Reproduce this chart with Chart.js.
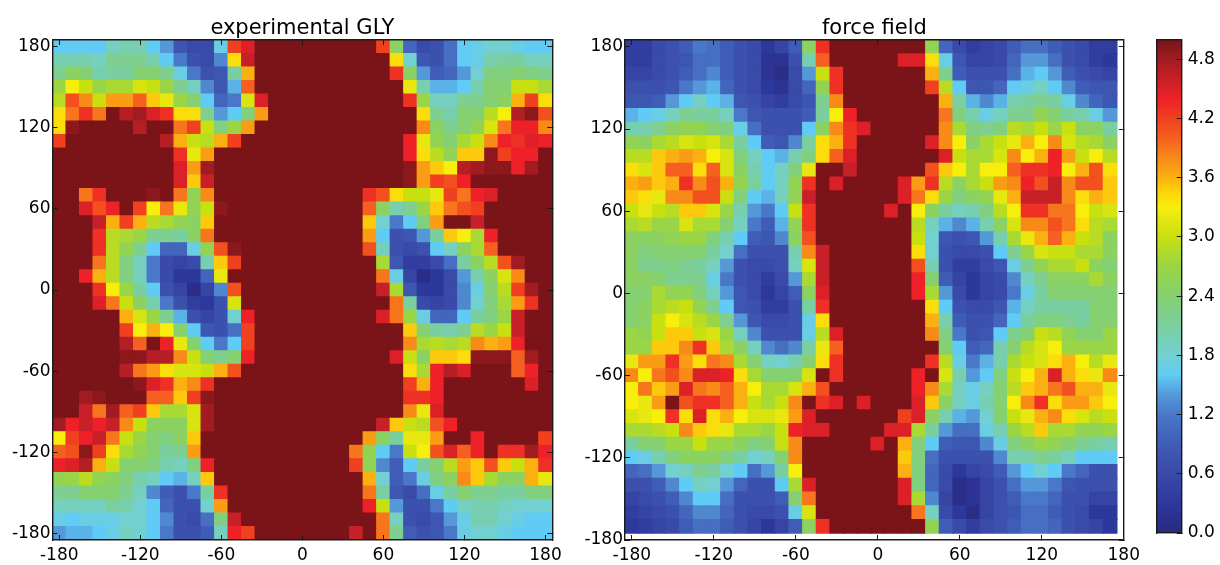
<!DOCTYPE html>
<html>
<head>
<meta charset="utf-8">
<style>
  html, body { margin: 0; padding: 0; background: #fff; }
  body { width: 1220px; height: 565px; position: relative; overflow: hidden; }
  .box { position: absolute; top: 0; height: 565px; }
</style>
<script src="https://cdn.jsdelivr.net/npm/chart.js@4/dist/chart.umd.min.js"></script>
</head>
<body>
<div class="box" style="left:0;width:572px"><canvas id="glyChart"></canvas></div>
<div class="box" style="left:572px;width:578px"><canvas id="fieldChart"></canvas></div>
<div class="box" style="left:1150px;width:70px"><canvas id="barChart"></canvas></div>
<script>
// Axis ticks
const angleTicks = [-180, -120, -60, 0, 60, 120, 180];
const barTicks = [0, 0.6, 1.2, 1.8, 2.4, 3.0, 3.6, 4.2, 4.8];

// Bin centres
const glyPhi = [-180,-170,-160,-150,-140,-130,-120,-110,-100,-90,-80,-70,-60,-50,-40,-30,-20,-10,0,10,20,30,40,50,60,70,80,90,100,110,120,130,140,150,160,170,180];
const glyPsi = [180,170,160,150,140,130,120,110,100,90,80,70,60,50,40,30,20,10,0,-10,-20,-30,-40,-50,-60,-70,-80,-90,-100,-110,-120,-130,-140,-150,-160,-170,-180];
const fieldPhi = [-180,-170,-160,-150,-140,-130,-120,-110,-100,-90,-80,-70,-60,-50,-40,-30,-20,-10,0,10,20,30,40,50,60,70,80,90,100,110,120,130,140,150,160,170];
const fieldPsi = [180,170,160,150,140,130,120,110,100,90,80,70,60,50,40,30,20,10,0,-10,-20,-30,-40,-50,-60,-70,-80,-90,-100,-110,-120,-130,-140,-150,-160,-170];

// experimental GLY, one row per psi bin, top to bottom
const glyRows = [
[1.6,1.6,1.6,1.6,1.9,2.0,2.0,1.6,1.4,0.8,0.6,0.6,1.7,4.2,4.5,5,5,5,5,5,5,5,5,5,4.2,2.5,1.0,0.6,0.7,1.1,1.6,1.7,1.8,1.8,1.7,1.6,1.6],
[2.0,2.0,2.0,1.9,2.2,2.2,2.2,2.0,1.6,1.2,0.7,0.6,1.3,3.4,4.6,5,5,5,5,5,5,5,5,5,5,3.4,1.8,0.8,0.7,1.1,1.6,1.7,2.0,2.1,2.1,1.9,1.9],
[2.2,2.5,2.4,2.0,2.1,2.1,2.4,2.4,2.2,1.7,1.2,0.7,0.8,2.1,3.6,5,5,5,5,5,5,5,5,5,5,4.3,2.5,1.4,0.9,1.0,1.4,1.8,2.3,2.3,2.4,2.3,2.2],
[2.7,3.3,3.0,2.7,2.8,2.8,3.1,3.0,2.7,2.2,1.9,1.3,0.8,1.5,4.0,5,5,5,5,5,5,5,5,5,5,5,3.2,2.0,1.5,1.5,1.6,2.0,2.4,2.4,3.0,3.0,2.8],
[2.9,4.1,3.8,3.0,3.7,3.7,4.0,3.5,3.2,2.7,2.4,1.6,1.0,1.2,3.1,4.5,5,5,5,5,5,5,5,5,5,5,4.3,2.7,1.9,1.9,2.2,2.2,2.4,2.5,3.6,4.2,3.4],
[3.4,3.9,4.3,3.9,5,4.7,4.8,4.5,4.3,3.4,3.4,2.2,1.4,1.6,2.3,3.7,5,5,5,5,5,5,5,5,5,5,5,3.4,2.2,2.0,2.4,2.4,2.9,3.3,4.7,4.9,4.1],
[3.4,4.9,5,5,5,5,4.7,5,5,3.9,4.2,3.0,2.3,2.7,3.7,5,5,5,5,5,5,5,5,5,5,5,5,3.8,2.5,2.2,2.4,2.6,3.1,3.9,4.4,4.4,3.8],
[4.2,5,5,5,5,5,5,5,4.7,3.6,3.0,2.9,3.6,4.2,5,5,5,5,5,5,5,5,5,5,5,5,4.4,3.2,2.6,2.4,2.8,3.0,3.8,4.4,4.3,4.5,4.4],
[5,5,5,5,5,5,5,5,5,4.3,3.2,3.7,5,5,5,5,5,5,5,5,5,5,5,5,5,5,4.4,3.4,2.9,2.6,3.5,3.5,4.9,4.2,4.4,4.4,5],
[5,5,5,5,5,5,5,5,5,4.5,3.7,4.8,5,5,5,5,5,5,5,5,5,5,5,5,5,5,4.9,3.7,3.5,3.3,4.7,4.8,4.9,4.9,4.4,4.8,5],
[5,5,5,5,5,5,5,5,5,4.5,3.5,4.6,5,5,5,5,5,5,5,5,5,5,5,5,5,5,4.9,3.7,4.2,4.1,4.4,5,5,5,5,5,5],
[5,5,3.9,4.3,5,5,5,4.9,5,3.9,2.6,3.8,5,5,5,5,5,5,5,5,5,5,5,4.3,4.1,3.4,3.0,3.0,3.2,4.2,3.9,4.4,4.5,5,5,5,5],
[5,5,4.5,4.1,4.4,5,4.2,3.3,3.9,3.2,2.6,3.0,4.9,5,5,5,5,5,5,5,5,5,5,4.0,2.5,2.0,2.2,2.7,3.5,3.9,4.1,4.2,5,5,5,5,5],
[5,5,5,4.6,3.6,4.2,3.6,2.9,2.8,2.6,2.5,3.5,5,5,5,5,5,5,5,5,5,5,5,3.5,1.8,1.2,1.6,2.3,3.7,5,5,4.6,5,5,5,5,5],
[5,5,5,4.3,2.9,2.8,2.7,2.2,2.2,2.1,2.5,3.9,5,5,5,5,5,5,5,5,5,5,5,3.7,1.6,0.7,0.8,1.4,2.1,3.5,3.3,2.8,4.4,5,5,5,5],
[5,5,5,4.3,2.9,2.6,2.2,1.6,1.0,1.0,1.7,2.6,4.1,4.9,5,5,5,5,5,5,5,5,5,4.1,1.9,0.7,0.6,0.7,1.6,1.9,2.5,2.8,4.0,5,5,5,5],
[5,5,5,3.9,2.9,2.3,1.9,1.2,0.6,0.5,0.6,2.0,3.5,4.2,5,5,5,5,5,5,5,5,5,5,2.8,0.8,0.4,0.4,0.6,1.1,2.1,2.5,2.9,4.1,4.8,5,5],
[5,5,4.4,3.6,2.9,2.3,1.9,1.2,0.6,0.3,0.3,1.0,3.2,5,5,5,5,5,5,5,5,5,5,5,3.9,1.7,0.5,0.1,0.3,0.6,1.4,2.0,2.5,3.1,3.8,5,5],
[5,5,5,4.3,3.3,2.7,2.1,1.6,0.7,0.5,0.1,0.5,1.3,4.1,5,5,5,5,5,5,5,5,5,5,4.6,2.8,0.8,0.3,0.3,0.6,1.3,1.7,2.4,2.9,4.2,4.8,5],
[5,5,5,4.5,3.9,3.0,2.5,2.0,1.2,0.7,0.4,0.3,0.7,3.1,5,5,5,5,5,5,5,5,5,5,5,3.9,2.1,0.6,0.5,0.6,1.3,1.8,2.3,2.8,3.7,4.3,5],
[5,5,5,5,5,3.6,3.1,2.7,2.2,1.5,0.7,0.5,0.7,1.8,4.4,5,5,5,5,5,5,5,5,5,4.5,3.9,2.7,1.7,1.0,1.0,1.6,2.1,2.3,2.7,4.6,5,5],
[5,5,5,5,5,4.2,3.3,3.6,3.3,2.4,1.6,0.8,0.7,1.1,4.2,5,5,5,5,5,5,5,5,5,5,5,3.5,2.4,2.1,2.0,2.2,2.9,2.7,3.0,4.6,5,5],
[5,5,5,5,5,4.7,4.0,5,4.4,3.2,2.4,1.6,1.2,1.6,4.2,5,5,5,5,5,5,5,5,5,5,5,3.8,2.8,2.9,2.8,2.9,3.8,3.6,3.7,4.4,5,5],
[5,5,5,5,5,4.9,4.9,4.7,4.7,3.8,3.0,2.4,2.2,2.4,4.4,5,5,5,5,5,5,5,5,5,5,4.5,3.0,2.5,3.5,3.5,3.4,4.9,4.9,4.9,4.0,4.8,5],
[5,5,5,5,5,4.7,3.9,3.7,3.4,3.1,3.1,3.0,3.6,4.1,5,5,5,5,5,5,5,5,5,5,5,5,3.4,2.8,4.4,4.7,4.5,5,5,5,4.0,4.4,5],
[5,5,5,5,5,5,4.9,4.5,4.3,3.6,3.8,4.3,5,5,5,5,5,5,5,5,5,5,5,5,5,5,4.2,3.6,4.4,5,5,5,5,5,5,4.5,5],
[5,5,4.8,4.9,5,5,5,4.0,4.0,3.5,4.2,4.9,5,5,5,5,5,5,5,5,5,5,5,5,5,5,4.3,4.3,4.4,5,5,5,5,5,5,5,5],
[5,5,4.6,3.9,4.8,4.0,4.2,3.5,2.8,2.8,3.1,4.8,5,5,5,5,5,5,5,5,5,5,5,5,5,5,3.8,3.2,4.5,5,5,5,5,5,5,5,5],
[4.8,4.4,4.6,4.4,4.6,3.8,3.0,2.5,2.5,2.5,3.1,4.8,5,5,5,5,5,5,5,5,5,5,5,5,4.6,3.5,3.0,2.9,4.1,4.4,5,5,5,5,5,5,5],
[3.3,4.2,4.4,4.6,3.9,3.0,2.7,2.4,2.3,2.5,3.5,5,5,5,5,5,5,5,5,5,5,5,5,3.7,2.5,2.1,3.2,3.2,3.7,5,5,4.4,5,5,5,5,4.2],
[4.0,4.1,4.9,4.2,3.4,2.8,2.6,2.4,2.1,2.2,3.7,5,5,5,5,5,5,5,5,5,5,5,3.9,2.6,1.6,1.2,3.0,3.3,4.1,4.5,4.0,4.4,5,4.3,4.3,4.8,4.4],
[4.4,4.5,4.7,3.6,3.0,2.4,2.4,2.3,2.0,1.9,2.3,4.4,5,5,5,5,5,5,5,5,5,5,4.2,2.6,1.3,0.9,1.6,2.1,2.4,2.9,3.7,3.5,4.1,3.5,3.0,3.6,4.3],
[2.6,2.7,2.9,2.6,2.5,2.3,2.0,1.9,1.6,1.5,1.9,3.5,5,5,5,5,5,5,5,5,5,5,5,3.6,1.8,0.9,1.2,1.7,2.3,2.5,3.8,3.5,2.8,2.5,2.5,3.6,3.2],
[2.2,2.2,2.4,2.4,2.4,2.2,1.9,1.3,0.9,0.7,1.2,2.1,4.3,5,5,5,5,5,5,5,5,5,5,3.9,2.1,0.8,0.6,1.1,1.7,2.1,2.4,2.2,2.2,2.1,2.1,2.3,2.3],
[1.9,1.9,1.9,1.9,2.1,2.0,1.8,1.6,1.0,0.7,0.7,1.8,3.7,5,5,5,5,5,5,5,5,5,5,4.4,3.0,1.4,0.7,0.7,1.2,1.6,1.9,2.0,2.0,1.9,1.8,1.8,1.8],
[1.7,1.6,1.7,1.7,1.7,1.8,1.8,1.6,1.3,0.7,0.6,1.1,2.3,4.6,5,5,5,5,5,5,5,5,5,5,3.9,1.9,0.7,0.6,0.8,1.4,1.7,2.0,2.0,1.8,1.7,1.6,1.6],
[1.4,1.5,1.5,1.6,1.7,1.9,1.8,1.6,1.2,0.7,0.7,0.9,1.9,4.4,4.2,5,5,5,5,5,5,5,4.6,5,3.9,2.2,0.9,0.7,0.8,1.2,1.7,1.8,1.8,1.7,1.6,1.6,1.6]
];

// force field, one row per psi bin, top to bottom
const fieldRows = [
[0.4,0.4,0.6,0.7,0.9,1.2,1.1,0.9,0.7,0.6,0.3,0.5,0.9,2.5,4.3,5,5,5,5,5,5,5,2.6,1.0,0.6,0.4,0.5,0.6,0.9,1.1,1.1,0.9,0.7,0.6,0.4,0.4],
[0.4,0.4,0.6,0.7,0.8,1.1,1.1,0.9,0.7,0.6,0.2,0.2,0.7,2.0,4.0,5,5,5,5,5,4.5,4.5,3.4,1.7,0.8,0.5,0.5,0.6,1.0,1.4,1.4,1.1,0.7,0.6,0.4,0.3],
[0.5,0.5,0.6,0.7,0.9,1.1,1.3,0.9,0.7,0.6,0.2,0.1,0.6,1.4,3.0,4.3,5,5,5,5,5,5,3.6,2.2,0.9,0.7,0.7,0.7,1.1,1.5,1.6,1.4,0.9,0.7,0.6,0.5],
[0.7,0.7,0.7,0.8,1.2,1.4,1.5,1.0,0.7,0.6,0.3,0.2,0.6,1.0,2.6,4.3,5,5,5,5,5,5,4.2,2.9,1.6,0.8,0.8,1.0,1.6,1.7,1.9,1.6,1.3,0.9,0.8,0.8],
[0.8,0.8,0.9,1.4,1.6,1.9,1.6,1.5,0.8,0.7,0.5,0.4,0.6,0.8,2.2,3.8,5,5,5,5,5,5,5,3.6,2.1,1.5,1.3,1.5,2.0,2.1,2.2,2.1,1.7,1.3,1.0,0.8],
[1.5,1.6,1.7,1.9,2.2,2.1,2.1,1.9,1.2,0.8,0.7,0.7,0.7,0.9,2.1,3.3,4.4,5,5,5,5,5,5,3.9,2.3,2.0,1.7,1.9,2.2,2.2,2.6,2.4,2.1,2.0,1.7,1.4],
[2.0,2.0,2.2,2.5,2.6,2.6,2.4,2.3,1.7,1.1,0.7,0.7,0.7,1.6,2.5,3.8,4.3,4.5,5,5,5,5,5,3.8,2.8,2.3,2.2,2.3,2.9,2.8,3.0,2.7,3.0,2.5,2.5,2.1],
[2.6,2.5,2.8,2.9,3.1,3.0,3.1,2.8,2.1,1.6,0.9,0.8,1.3,2.1,3.4,3.6,4.3,5,5,5,5,5,4.5,3.8,3.3,2.5,2.8,3.0,3.2,3.6,3.3,3.8,3.1,2.9,2.8,2.5],
[2.9,2.9,3.5,3.6,3.7,3.6,3.3,3.1,2.3,1.9,1.6,1.5,2.0,2.3,3.4,4.0,4.5,5,5,5,5,5,5,4.5,3.0,2.8,2.8,3.1,3.8,3.3,3.6,4.4,3.7,3.0,3.3,2.9],
[3.4,3.1,3.5,4.0,4.0,3.4,4.0,3.1,2.5,2.0,1.6,1.9,2.3,3.2,5,5,4.6,5,5,5,5,5,4.1,3.5,3.3,2.8,3.3,3.3,4.0,4.3,4.3,4.4,3.3,3.6,4.1,3.4],
[3.6,3.7,3.5,3.6,4.3,3.8,4.1,3.6,2.6,2.1,1.6,1.9,2.6,4.3,5,4.5,5,5,5,5,4.5,3.7,4.3,2.9,2.5,2.8,3.0,3.7,3.8,4.4,4.1,4.6,3.8,4.1,4.1,3.5],
[3.5,3.4,3.2,3.8,3.8,4.1,4.1,3.0,2.3,1.6,1.5,1.9,2.6,4.6,5,5,5,5,5,5,4.5,3.9,3.4,2.7,2.3,2.5,2.6,3.2,3.6,4.6,4.6,4.6,3.8,3.4,3.6,3.5],
[3.0,3.2,3.0,2.9,3.5,3.5,3.1,2.7,2.0,1.4,1.2,1.6,3.0,4.3,5,5,5,5,5,4.5,5,3.3,2.5,2.1,1.9,2.0,2.3,2.9,3.3,4.3,4.3,3.9,3.9,3.3,3.0,3.1],
[2.8,2.9,2.7,2.7,3.1,2.8,2.8,2.4,1.9,1.2,0.9,1.5,2.6,4.3,5,5,5,5,5,5,5,2.9,1.9,1.5,1.3,1.5,2.0,2.5,3.1,3.8,3.8,4.1,3.9,3.4,2.9,2.8],
[2.5,2.5,2.5,2.6,2.7,2.7,2.3,2.0,1.6,0.9,0.8,1.3,2.5,4.1,5,5,5,5,5,5,5,3.0,1.8,0.8,0.7,0.8,1.4,2.0,2.8,3.2,3.6,4.0,3.6,3.0,2.9,2.5],
[2.5,2.3,2.4,2.4,2.4,2.4,2.1,1.8,1.1,0.7,0.7,0.7,2.0,3.8,4.6,5,5,5,5,5,5,3.4,1.8,0.7,0.6,0.6,0.7,1.6,2.2,2.7,3.1,3.0,3.0,2.8,2.8,2.5],
[2.5,2.2,2.2,2.3,2.2,2.1,1.9,1.4,0.7,0.6,0.6,0.7,1.9,3.1,4.6,5,5,5,5,5,5,4.1,2.0,0.7,0.4,0.4,0.6,0.8,1.7,2.2,2.6,2.8,2.8,3.0,2.5,2.4],
[2.5,2.5,2.4,2.2,2.2,2.2,1.7,1.2,0.7,0.6,0.4,0.6,1.4,2.8,4.6,5,5,5,5,5,5,4.4,2.4,0.9,0.5,0.3,0.5,0.6,1.3,1.9,2.2,2.5,2.5,2.5,2.8,2.5],
[2.4,2.4,2.8,2.6,2.6,2.3,1.9,1.4,0.8,0.6,0.3,0.5,0.9,2.5,4.5,5,5,5,5,5,5,4.4,2.8,1.4,0.6,0.3,0.5,0.6,1.2,1.7,2.1,2.4,2.4,2.4,2.4,2.4],
[2.4,2.5,2.8,2.9,3.0,2.6,2.2,1.6,0.8,0.7,0.4,0.4,0.7,2.1,4.3,5,5,5,5,5,5,5,3.4,1.6,0.7,0.6,0.6,0.8,1.5,1.9,2.1,2.1,2.1,2.1,2.4,2.4],
[2.4,2.5,3.0,3.3,3.1,2.9,2.7,2.2,1.4,0.8,0.6,0.6,0.7,1.7,3.4,5,5,5,5,5,5,5,3.6,2.0,0.9,0.7,0.7,1.0,1.6,2.1,2.3,2.3,2.2,2.1,2.4,2.4],
[2.7,2.6,3.0,3.5,3.5,3.0,3.1,2.7,1.9,1.3,0.7,0.7,0.7,1.7,2.9,4.5,5,5,5,5,5,5,3.8,2.3,1.2,0.7,0.8,1.6,2.2,2.4,3.0,2.9,2.6,2.4,2.4,2.7],
[2.7,2.7,3.5,3.5,3.8,4.3,3.5,2.8,2.5,1.9,1.3,1.1,1.3,2.1,3.2,4.0,5,5,5,5,5,5,5,2.4,1.6,0.9,1.0,2.0,2.4,2.9,3.1,3.3,2.7,2.7,2.7,2.7],
[3.2,3.7,3.7,4.3,3.7,3.4,3.9,3.8,2.8,2.4,1.9,1.8,2.0,2.4,3.4,4.3,5,5,5,5,5,5,4.3,2.9,1.7,1.2,1.5,2.0,2.8,3.0,3.1,3.4,3.6,3.3,2.9,3.2],
[3.8,3.3,3.9,4.1,3.8,4.5,4.5,4.4,3.4,2.8,2.4,2.4,2.4,3.1,5,4.3,5,5,5,5,5,4.4,5,3.1,2.0,1.4,1.6,2.3,3.0,3.3,3.6,4.5,3.6,3.4,3.2,3.8],
[3.3,3.9,3.5,3.7,4.5,3.9,3.8,4.0,3.6,3.3,2.8,2.8,3.1,3.6,4.1,5,5,5,5,5,5,4.4,3.8,2.8,1.9,1.7,1.9,2.4,2.9,3.5,3.6,3.9,4.1,3.6,3.6,3.2],
[3.3,3.2,3.7,5,4.1,4.3,4.3,4.0,3.6,3.0,2.8,3.0,3.8,5,4.3,4.5,5,4.5,5,5,5,4.5,3.5,2.5,1.9,1.7,2.0,2.4,3.3,3.8,4.3,3.4,3.7,3.7,3.5,3.3],
[3.1,3.2,3.3,4.3,3.4,4.5,3.4,3.6,3.3,3.1,3.1,3.2,3.7,4.5,5,5,5,5,5,5,4.2,4.5,2.5,2.0,1.5,1.4,1.8,2.4,3.0,3.2,3.6,3.8,3.4,3.1,2.9,3.0],
[2.8,2.8,2.9,3.0,3.8,3.5,3.4,3.2,2.8,2.8,2.7,3.0,4.4,4.5,4.5,5,5,5,5,4.5,4.5,2.8,2.1,1.4,1.1,1.1,1.7,2.0,2.7,2.9,3.5,2.8,2.8,2.6,2.6,2.7],
[2.1,2.4,2.4,2.7,2.7,3.0,2.7,2.7,2.5,2.3,2.4,3.0,3.8,5,5,5,5,5,4.5,5,3.6,2.3,1.6,0.9,0.8,0.8,1.3,1.7,2.3,2.5,2.7,2.6,2.4,2.2,2.1,2.0],
[1.6,1.7,2.0,2.3,2.5,2.5,2.5,2.3,2.1,1.8,1.9,2.4,3.8,5,5,5,5,5,5,5,3.5,2.3,1.1,0.7,0.7,0.7,0.7,1.3,2.0,2.0,2.2,2.1,1.9,1.6,1.6,1.6],
[1.0,1.1,1.4,1.8,1.9,2.2,2.1,1.8,1.6,1.1,1.4,2.1,3.3,5,5,5,5,5,5,5,3.6,2.3,1.0,0.6,0.3,0.5,0.6,0.9,1.4,1.6,1.8,1.6,1.2,1.0,0.7,0.7],
[0.7,0.7,0.9,1.3,1.6,1.9,1.8,1.4,1.0,0.7,0.7,1.6,2.8,4.5,5,5,5,5,5,5,4.5,2.3,1.0,0.6,0.1,0.2,0.5,0.7,1.1,1.4,1.4,1.2,0.8,0.7,0.7,0.7],
[0.5,0.6,0.7,0.9,1.3,1.6,1.6,1.1,0.7,0.7,0.7,0.9,2.4,3.9,5,5,5,5,5,5,4.5,2.8,1.3,0.5,0.1,0.2,0.5,0.7,0.9,1.2,1.2,1.0,0.7,0.7,0.5,0.5],
[0.4,0.5,0.6,0.7,1.0,1.3,1.3,1.0,0.7,0.6,0.6,0.7,1.7,3.1,5,5,5,5,5,5,5,3.9,1.9,0.6,0.3,0.1,0.5,0.7,0.8,1.1,1.1,0.9,0.7,0.6,0.3,0.3],
[0.3,0.4,0.5,0.6,0.9,1.1,1.1,0.9,0.7,0.5,0.3,0.5,0.9,2.5,4.3,5,5,5,5,5,5,5,2.6,0.9,0.6,0.4,0.6,0.7,0.9,1.1,1.1,1.0,0.7,0.6,0.5,0.3]
];

// Colour map
const mapStops = [0, 0.3, 0.6, 0.9, 1.2, 1.4, 1.6, 1.8, 2.1, 2.4, 2.7, 3.0, 3.2, 3.3, 3.45, 3.6, 3.8, 4.0, 4.2, 4.4, 4.6, 4.8, 5];
const mapColors = ['#29297f', '#2d389c', '#3a4aa8', '#3f5cb6', '#4a78c8', '#5598d8', '#60ccf5', '#72d0d0', '#7acfa0', '#85d070', '#9ad545', '#c8e010', '#e8e810', '#f7ee0c', '#fdd50a', '#fbb012', '#f88a18', '#f56020', '#f04020', '#ee2028', '#c82028', '#a01c20', '#7a1418'];

const hexToRgb = hex => [1, 3, 5].map(i => parseInt(hex.slice(i, i + 2), 16));

function colorFor(v) {
    let i = 0;
    while (i < mapStops.length - 2 && v > mapStops[i + 1]) i++;
    const t = Math.min(1, Math.max(0, (v - mapStops[i]) / (mapStops[i + 1] - mapStops[i])));
    const a = hexToRgb(mapColors[i]);
    const b = hexToRgb(mapColors[i + 1]);
    const c = a.map((ch, k) => Math.round(ch + (b[k] - ch) * t));
    return `rgb(${c[0]},${c[1]},${c[2]})`;
}

const INK = '#1a1a1a';
const FONT = 'DejaVu Sans';

const setTicks = values => scale => {
    scale.ticks = values.map(v => ({ value: v }));
};

// Matplotlib look: ticks point into the frame. The axis box keeps its real size,
// Chart.js clips tick labels to it.
const frameAxis = (position, min, max, values, size, showLabels, format) => ({
    type: 'linear',
    position: position,
    min: min,
    max: max,
    afterBuildTicks: setTicks(values),
    afterFit: scale => {
        if (scale.isHorizontal()) scale.height = size;
        else scale.width = size;
    },
    border: { display: true, color: INK, width: 1.4, z: 2 },
    grid: { drawOnChartArea: false, drawTicks: true, tickLength: -5, color: INK, lineWidth: 1, z: 1 },
    ticks: {
        display: showLabels,
        color: '#000',
        font: { family: FONT, size: 17 },
        maxRotation: 0,
        autoSkip: false,
        padding: position === 'bottom' ? 10 : position === 'right' ? 11 : 7,
        callback: format || (value => String(value))
    }
});

function heatConfig(title, rows, phi, psi, xMin, xMax, yMin, yMax, yAxisWidth, rightPad) {
    const cells = [];
    rows.forEach((row, j) => {
        row.forEach((v, i) => {
            cells.push({ x: phi[i], y: psi[j], v: v });
        });
    });
    return {
        type: 'scatter',
        data: {
            datasets: [{
                data: cells,
                pointStyle: 'rect',
                // square side covers one 10 degree bin, with overlap so no seams show
                pointRadius: ctx => {
                    const s = ctx.chart.scales.x;
                    const side = Math.abs(s.getPixelForValue(10) - s.getPixelForValue(0)) + 1.1;
                    return side * Math.SQRT1_2;
                },
                pointBorderWidth: 0,
                pointBackgroundColor: ctx => colorFor(ctx.raw ? ctx.raw.v : 0)
            }]
        },
        options: {
            responsive: false,
            animation: false,
            events: [],
            layout: { padding: { left: 0, right: rightPad, top: 0, bottom: 0 } },
            plugins: {
                legend: { display: false },
                tooltip: { enabled: false },
                title: {
                    display: true,
                    fullSize: false,
                    text: title,
                    color: '#000',
                    font: { family: FONT, size: 21, weight: 'normal', lineHeight: 1 },
                    padding: { top: 18, bottom: 1 }
                }
            },
            scales: {
                x: frameAxis('bottom', xMin, xMax, angleTicks, 25, true),
                y: frameAxis('left', yMin, yMax, angleTicks, yAxisWidth, true),
                x2: frameAxis('top', xMin, xMax, angleTicks, 0, false),
                y2: frameAxis('right', yMin, yMax, angleTicks, 0, false)
            }
        }
    };
}

function sizeCanvas(id, w, h) {
    const el = document.getElementById(id);
    el.width = w;
    el.height = h;
    el.style.width = w + 'px';
    el.style.height = h + 'px';
    return el.getContext('2d');
}

new Chart(sizeCanvas('glyChart', 572, 565),
    heatConfig('experimental GLY', glyRows, glyPhi, glyPsi, -185, 185, -185, 185, 52.5, 19.5));

new Chart(sizeCanvas('fieldChart', 578, 565),
    heatConfig('force field', fieldRows, fieldPhi, fieldPsi, -185, 180, -180, 185, 53, 25));

// Colour bar: one bar filled with the same map
new Chart(sizeCanvas('barChart', 70, 565), {
    type: 'bar',
    data: {
        labels: [''],
        datasets: [{
            data: [5],
            barPercentage: 1,
            categoryPercentage: 1,
            backgroundColor: ctx => {
                const area = ctx.chart.chartArea;
                if (!area) return mapColors[0];
                const g = ctx.chart.ctx.createLinearGradient(0, area.bottom, 0, area.top);
                mapStops.forEach((s, i) => g.addColorStop(s / 5, mapColors[i]));
                return g;
            }
        }]
    },
    options: {
        responsive: false,
        animation: false,
        events: [],
        layout: { padding: { left: 7, right: 0, top: 39.5, bottom: 32 } },
        plugins: { legend: { display: false }, tooltip: { enabled: false } },
        scales: {
            x: {
                afterFit: scale => { scale.height = 0; },
                border: { display: true, color: INK, width: 1.4, z: 2 },
                grid: { display: false },
                ticks: { display: false }
            },
            x2: {
                type: 'category',
                labels: [''],
                position: 'top',
                afterFit: scale => { scale.height = 0; },
                border: { display: true, color: INK, width: 1.4, z: 2 },
                grid: { display: false },
                ticks: { display: false }
            },
            yl: {
                type: 'linear',
                position: 'left',
                min: 0,
                max: 5,
                afterFit: scale => { scale.width = 0; },
                border: { display: true, color: INK, width: 1.4, z: 2 },
                grid: { display: false },
                ticks: { display: false }
            },
            y: frameAxis('right', 0, 5, barTicks, 38.3, true, value => value.toFixed(1))
        }
    }
});
</script>
</body>
</html>
